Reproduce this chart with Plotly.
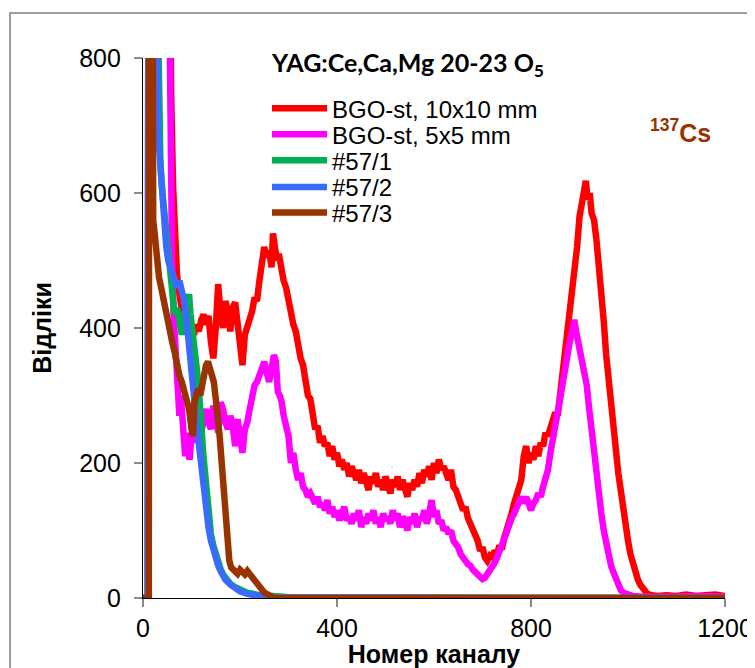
import plotly.graph_objects as go

# ---------------- data ----------------
x_bgo10 = [0, 10, 13, 20, 30, 40, 48, 54, 58, 62, 66, 70, 75, 80, 85, 90, 95, 100, 105, 110, 115, 120, 125, 130, 135, 140, 145, 150, 155, 160, 165, 170, 175, 180, 185, 190, 195, 200, 205, 210, 215, 220, 225, 230, 235, 240, 245, 250, 255, 260, 265, 268, 272, 276, 280, 285, 290, 295, 300, 305, 310, 315, 320, 325, 330, 335, 340, 345, 350, 355, 360, 365, 370, 375, 380, 385, 390, 395, 400, 405, 410, 415, 420, 425, 430, 435, 440, 445, 450, 455, 460, 465, 470, 475, 480, 485, 490, 495, 500, 505, 510, 515, 520, 525, 530, 535, 540, 545, 550, 555, 560, 565, 570, 575, 580, 585, 590, 595, 600, 605, 610, 615, 620, 625, 630, 635, 640, 645, 650, 655, 660, 665, 670, 675, 680, 685, 690, 695, 700, 705, 710, 715, 720, 725, 730, 735, 740, 745, 750, 755, 760, 765, 770, 775, 780, 785, 790, 795, 800, 805, 810, 815, 820, 825, 830, 835, 840, 845, 850, 855, 860, 865, 870, 875, 880, 885, 890, 895, 900, 905, 910, 913, 917, 921, 925, 930, 935, 940, 945, 950, 955, 960, 965, 970, 975, 980, 985, 990, 995, 1000, 1005, 1010, 1015, 1020, 1025, 1030, 1035, 1040, 1050, 1060, 1080, 1100, 1120, 1140, 1160, 1180, 1200]
y_bgo10 = [0, 0, 3000, 3000, 2900, 2300, 1500, 950, 750, 610, 530, 480, 450, 420, 405, 395, 410, 400, 390, 405, 395, 412, 420, 405, 418, 380, 355, 400, 465, 420, 400, 440, 425, 395, 430, 438, 400, 370, 345, 390, 400, 410, 425, 445, 440, 470, 500, 520, 505, 515, 490, 540, 520, 500, 510, 485, 470, 460, 440, 430, 405, 395, 370, 355, 345, 320, 300, 295, 270, 250, 255, 230, 240, 225, 230, 210, 225, 205, 215, 195, 205, 190, 200, 180, 195, 185, 175, 190, 170, 185, 175, 160, 180, 170, 185, 165, 175, 160, 180, 170, 155, 175, 165, 180, 160, 175, 165, 150, 170, 160, 175, 165, 185, 170, 190, 180, 195, 175, 200, 185, 205, 190, 195, 185, 175, 190, 165, 160, 145, 140, 130, 135, 118, 110, 100, 95, 85, 70, 75, 60, 55, 62, 58, 70, 65, 78, 72, 90, 100, 115, 125, 140, 150, 165, 175, 210, 225, 200, 215, 205, 225, 210, 230, 225, 245, 240, 255, 260, 275, 270, 300, 330, 360, 390, 440, 470, 500, 520, 565, 590, 600, 618, 590, 600, 570, 560, 530, 495, 450, 410, 360, 320, 280, 245, 215, 185, 160, 130, 105, 85, 65, 50, 38, 28, 20, 14, 9, 6, 4, 3, 4, 3, 5, 3, 4, 5, 3]

x_bgo5 = [0, 10, 13, 20, 30, 40, 48, 53, 57, 60, 63, 66, 69, 72, 75, 78, 81, 84, 87, 90, 93, 96, 100, 104, 108, 112, 116, 120, 125, 130, 135, 140, 145, 150, 155, 160, 165, 170, 175, 180, 185, 190, 195, 200, 205, 210, 215, 220, 225, 230, 235, 240, 245, 250, 255, 260, 265, 270, 274, 278, 282, 286, 290, 295, 300, 305, 310, 315, 320, 325, 330, 335, 340, 345, 350, 355, 360, 365, 370, 375, 380, 385, 390, 395, 400, 405, 410, 415, 420, 425, 430, 435, 440, 445, 450, 455, 460, 465, 470, 475, 480, 485, 490, 495, 500, 505, 510, 515, 520, 525, 530, 535, 540, 545, 550, 555, 560, 565, 570, 575, 580, 585, 590, 595, 600, 605, 610, 615, 620, 625, 630, 635, 640, 645, 650, 655, 660, 665, 670, 675, 680, 685, 690, 695, 700, 705, 710, 715, 720, 725, 730, 735, 740, 745, 750, 755, 760, 765, 770, 775, 780, 785, 790, 795, 800, 805, 810, 815, 820, 825, 830, 835, 840, 845, 850, 855, 860, 865, 870, 875, 880, 885, 889, 893, 897, 901, 905, 910, 915, 920, 925, 930, 935, 940, 945, 950, 955, 960, 965, 970, 975, 980, 985, 990, 1000, 1010, 1030, 1060, 1100, 1140, 1200]
y_bgo5 = [0, 0, 3000, 3000, 2700, 2000, 1300, 900, 650, 500, 420, 380, 320, 290, 270, 300, 260, 240, 210, 245, 225, 205, 240, 255, 230, 250, 270, 245, 265, 280, 260, 250, 285, 265, 245, 290, 280, 260, 250, 270, 255, 225, 265, 240, 215, 250, 260, 280, 300, 315, 320, 330, 340, 350, 335, 320, 340, 360, 350, 305, 300, 290, 270, 255, 240, 200, 215, 190, 175, 185, 165, 160, 150, 155, 145, 140, 150, 135, 140, 130, 145, 125, 135, 120, 130, 115, 125, 135, 115, 120, 110, 125, 115, 130, 105, 120, 110, 125, 115, 130, 110, 120, 105, 125, 115, 120, 110, 130, 115, 125, 105, 120, 115, 100, 120, 110, 125, 105, 120, 115, 130, 110, 125, 145, 120, 130, 110, 115, 100, 105, 95, 100, 85, 80, 75, 65, 58, 55, 50, 48, 42, 38, 35, 32, 28, 30, 35, 38, 45, 52, 60, 68, 80, 88, 98, 110, 118, 125, 135, 145, 150, 140, 150, 140, 130, 140, 145, 155, 150, 165, 175, 190, 215, 240, 260, 275, 295, 320, 345, 365, 380, 395, 412, 395, 380, 375, 350, 335, 315, 280, 245, 210, 185, 150, 125, 100, 80, 62, 48, 38, 28, 18, 12, 8, 5, 3, 2, 3, 2, 3, 2]

x_s571 = [0, 10, 13, 20, 25, 28, 30, 33, 36, 40, 45, 50, 55, 60, 65, 70, 75, 80, 85, 90, 95, 98, 102, 106, 110, 114, 118, 121, 124, 128, 132, 136, 140, 145, 150, 155, 160, 165, 170, 180, 190, 200, 215, 235, 260, 300, 1200]
y_s571 = [0, 0, 3000, 3000, 2000, 1200, 900, 700, 640, 600, 560, 520, 480, 450, 420, 430, 400, 390, 420, 440, 450, 420, 400, 370, 345, 320, 290, 250, 215, 180, 145, 118, 95, 78, 64, 52, 43, 35, 29, 21, 16, 12, 8, 5, 3, 1, 0]

x_s572 = [0, 10, 13, 20, 24, 27, 29, 31, 33, 36, 39, 42, 45, 48, 52, 56, 60, 65, 70, 75, 80, 85, 90, 95, 100, 105, 110, 115, 120, 125, 130, 135, 140, 145, 150, 155, 160, 165, 170, 180, 190, 200, 215, 235, 260, 1200]
y_s572 = [0, 0, 3000, 3000, 1500, 900, 720, 690, 670, 640, 600, 555, 530, 520, 500, 490, 480, 470, 460, 470, 455, 440, 410, 380, 340, 300, 260, 225, 195, 160, 130, 105, 85, 70, 58, 48, 40, 33, 27, 20, 14, 10, 6, 3, 1, 0]

x_s573 = [0, 12, 14, 17, 19, 21, 24, 27, 30, 33, 36, 40, 44, 48, 52, 56, 60, 65, 70, 75, 80, 85, 90, 95, 100, 103, 106, 110, 114, 118, 122, 126, 130, 134, 138, 142, 146, 150, 154, 158, 162, 166, 170, 174, 178, 182, 188, 195, 200, 205, 210, 215, 220, 225, 230, 235, 240, 245, 250, 255, 262, 270, 1200]
y_s573 = [0, 0, 3000, 3000, 650, 560, 540, 510, 490, 475, 465, 450, 440, 420, 400, 390, 380, 365, 345, 330, 320, 305, 295, 280, 250, 240, 290, 300, 310, 300, 320, 330, 345, 350, 335, 330, 320, 300, 270, 240, 200, 150, 110, 75, 55, 45, 40, 36, 42, 38, 35, 40, 35, 32, 28, 22, 16, 11, 8, 6, 3, 0, 0]

series_names = ["BGO-st, 10x10 mm", "BGO-st, 5x5 mm", "#57/1", "#57/2", "#57/3"]
series_x = [x_bgo10, x_bgo5, x_s571, x_s572, x_s573]
series_y = [y_bgo10, y_bgo5, y_s571, y_s572, y_s573]
series_colors = ["#FF0000", "#FF00FF", "#00B050", "#3A6BFF", "#993300"]

x_ticks = [0, 400, 800, 1200]
y_ticks = [0, 200, 400, 600, 800]

# ---------------- figure ----------------
# the page adds an 8px body margin, so work in screen px and shift by OFF
OFF = 8
W, H = 755 - OFF, 668 - OFF
PL, PR, PT, PB = 143, 725, 58, 598          # plot area in screen px
L, T = PL - OFF, PT - OFF
R, B = W - (PR - OFF), H - (PB - OFF)
pw, ph = PR - PL, PB - PT

def px_x(p):
    return (p - PL) / pw

def px_y(p):
    return (PB - p) / ph

fig = go.Figure()
legend_rows = [108.7, 134.7, 160.7, 187.3, 213.0]
for i, (nm, xs, ys, c) in enumerate(zip(series_names, series_x, series_y, series_colors)):
    lg = "legend" if i == 0 else f"legend{i+1}"
    fig.add_trace(go.Scatter(x=xs, y=ys, mode="lines", name=nm, showlegend=True,
                             line=dict(color=c, width=6.5), legend=lg))

legend_font = dict(family="Liberation Sans, Arial, sans-serif", size=24, color="black")
for i, py in enumerate(legend_rows):
    key = "legend" if i == 0 else f"legend{i+1}"
    fig.update_layout(**{key: dict(x=px_x(267), y=px_y(py), xanchor="left", yanchor="middle",
                                   xref="paper", yref="paper",
                                   bgcolor="rgba(0,0,0,0)", borderwidth=0,
                                   font=legend_font, itemwidth=55)})

tick_font = dict(family="Liberation Sans, Arial, sans-serif", size=25, color="black")
title_font = dict(family="Liberation Sans, Arial, sans-serif", size=25, color="black")

fig.update_xaxes(range=[0, 1200], tickvals=x_ticks, ticks="outside", ticklen=8, tickwidth=1.5,
                 tickcolor="#8c8c8c", showline=True, linecolor="black", linewidth=1.3,
                 showgrid=False, zeroline=False, tickfont=tick_font,
                 title=dict(text="<b>Номер каналу</b>", font=title_font, standoff=0))
fig.update_yaxes(range=[0, 800], tickvals=y_ticks, ticks="outside", ticklen=8, tickwidth=1.5,
                 tickcolor="#8c8c8c", showline=True, linecolor="black", linewidth=1.3,
                 showgrid=False, zeroline=False, tickfont=tick_font, ticklabelstandoff=8,
                 title=dict(text="<b>Відліки</b>", font=title_font, standoff=20))

fig.update_layout(
    width=W, height=H, showlegend=True,
    margin=dict(l=L, r=R, t=T, b=B, autoexpand=False),
    paper_bgcolor="white", plot_bgcolor="white",
    title=dict(text="<b>YAG:Ce,Ca,Mg 20-23 O<sub>5</sub></b>",
               font=dict(family="Lato, Open Sans, sans-serif", size=25, color="black"),
               x=(408 - OFF) / W, xanchor="center", xref="container",
               y=1 - (63 - OFF) / H, yanchor="middle", yref="container"),
    annotations=[dict(text="<b><sup>137</sup>Cs</b>", x=px_x(680), y=px_y(131),
                      xref="paper", yref="paper", showarrow=False,
                      xanchor="center", yanchor="middle",
                      font=dict(family="Liberation Sans, Arial, sans-serif", size=25, color="#993300"))],
    shapes=[dict(type="rect", xref="paper", yref="paper",
                 x0=px_x(10), x1=px_x(780), y0=px_y(700), y1=px_y(13),
                 line=dict(color="#7f7f7f", width=1.5), fillcolor="rgba(0,0,0,0)", layer="below")],
)

fig.write_html("out.html")
